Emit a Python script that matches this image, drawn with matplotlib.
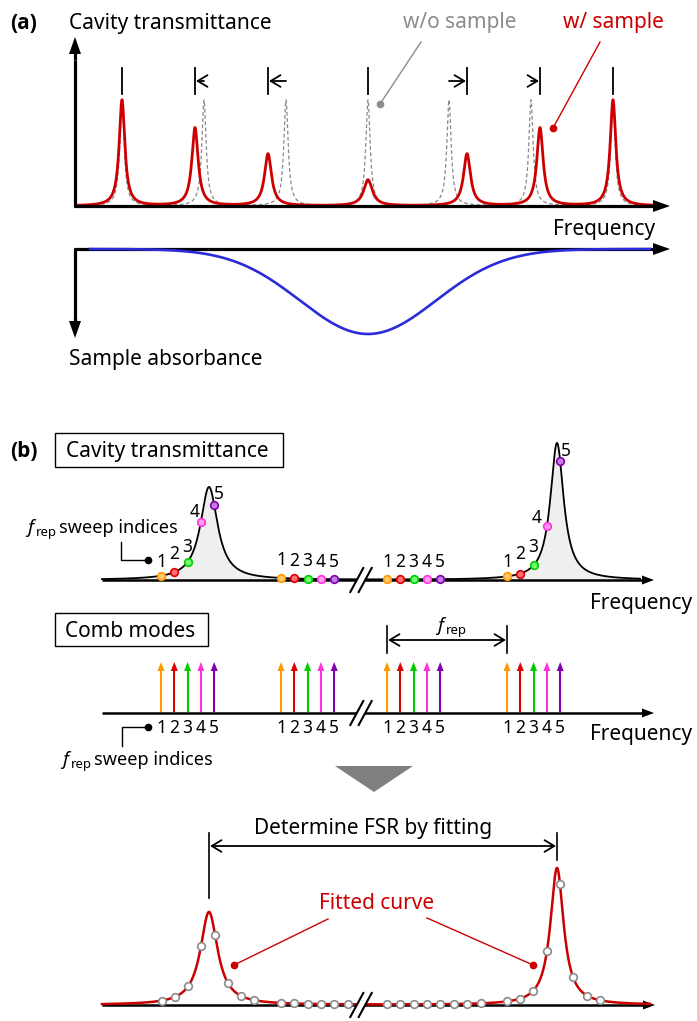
import numpy as np
import matplotlib
matplotlib.use("Agg")
import matplotlib.pyplot as plt
from matplotlib.patches import Polygon, Rectangle

plt.rcParams['font.family'] = ['Noto Sans', 'DejaVu Sans']
plt.rcParams['mathtext.fontset'] = 'custom'
plt.rcParams['mathtext.rm'] = 'Noto Sans'
plt.rcParams['mathtext.it'] = 'Noto Sans:italic'

# ---- panel (a) data (frequency in arbitrary units, heights in a.u.) ----
free_peaks = [122, 204, 286, 368, 449, 531, 613]      # w/o sample
sample_peaks = [122, 195, 268, 368, 467, 540, 613]    # w/ sample
sample_heights = [106, 78, 52, 26, 52, 78, 106]
sample_widths = [3.4, 3.8, 4.2, 5.2, 4.2, 3.8, 3.4]
free_height = 106
free_width = 2.6
absorb_center = 368
absorb_depth = 85
absorb_sigma = 68

# ---- panel (b) data ----
fsr_peaks = [209, 557]
fsr_heights = [93, 137]
fsr_widths = [10.5, 8.1]
comb_group_starts = [161, 281, 387, 507]
sweep_step = 13.3
sweep_labels = ['1', '2', '3', '4', '5']
sweep_edge = ['#ff9900', '#dd0000', '#00cc00', '#ff33dd', '#8000b0']
sweep_face = ['#ffc870', '#ff7070', '#70ff70', '#ff9cee', '#c080e0']
fit_points = [162, 175, 188, 201, 215, 228, 241, 254,
              281, 294, 308, 321, 334, 348,
              387, 400, 414, 427, 440, 454, 467, 481,
              507, 520, 533, 547, 560, 573, 587, 600]


def lorentz(x, centers, heights, widths):
    x = np.asarray(x, dtype=float)
    y = np.zeros_like(x)
    for c, h, g in zip(centers, heights, widths):
        y += h * g**2 / (g**2 + (x - c)**2)
    return y


fig = plt.figure(figsize=(6.97, 10.21), dpi=100)
ax = fig.add_axes([0, 0, 1, 1])
ax.set_xlim(0, 697)
ax.set_ylim(1021, 0)
ax.axis('off')


def solid_arrow(x0, y0, x1, y1, color='black', lw=2.0, hl=16, hw=12, z=3):
    dx, dy = x1 - x0, y1 - y0
    L = np.hypot(dx, dy)
    ux, uy = dx / L, dy / L
    bx, by = x1 - ux * hl, y1 - uy * hl
    ax.plot([x0, bx + ux * 2], [y0, by + uy * 2], color=color, lw=lw,
            solid_capstyle='butt', zorder=z)
    px, py = -uy, ux
    ax.add_patch(Polygon([(x1, y1), (bx + px * hw / 2, by + py * hw / 2),
                          (bx - px * hw / 2, by - py * hw / 2)],
                         closed=True, facecolor=color, edgecolor='none', zorder=z))


def open_arrow(x0, x1, y, style='->', lw=1.3):
    ax.annotate('', xy=(x1, y), xytext=(x0, y),
                arrowprops=dict(arrowstyle=style + ',head_length=0.5,head_width=0.3',
                                lw=lw, color='black', shrinkA=0, shrinkB=0,
                                mutation_scale=14))


def leader(x0, y0, x1, y1, color):
    ax.plot([x0, x1], [y0, y1], color=color, lw=1.0, zorder=4)
    ax.plot(x1, y1, 'o', color=color, ms=4.5, zorder=5)


def axis_break(xc, y):
    ax.add_patch(Rectangle((xc - 4, y - 3), 8, 6, facecolor='white',
                           edgecolor='none', zorder=6))
    for off in (-4.2, 4.2):
        ax.plot([xc + off - 6.5, xc + off + 6.5], [y + 12, y - 12],
                color='black', lw=1.5, zorder=7)


def frep_label(x, y, tail):
    ax.text(x, y, '$f$', fontsize=13.5, va='baseline')
    ax.text(x + 11, y + 3, 'rep', fontsize=9.5, va='baseline')
    if tail:
        ax.text(x + 34, y, tail, fontsize=13, va='baseline')


bold = dict(fontsize=15, fontweight='bold', family=['Open Sans', 'DejaVu Sans'],
            va='baseline')

# ================= panel (a) =================
base_a = 206
xa = np.linspace(76, 652, 3000)
ax.text(10, 29, '(a)', **bold)
ax.text(69, 29, 'Cavity transmittance', fontsize=15, va='baseline')

ax.plot(xa, base_a - lorentz(xa, free_peaks, [free_height] * 7, [free_width] * 7),
        color='#888888', lw=0.9, ls=(0, (3, 2)), zorder=2)
ax.plot(xa, base_a - lorentz(xa, sample_peaks, sample_heights, sample_widths),
        color='#cc0000', lw=2.0, zorder=3)

ax.plot([75, 75], [base_a + 1.5, 60], color='black', lw=2.3, solid_capstyle='butt', zorder=4)
solid_arrow(75, 60, 75, 37, hl=17, hw=12, lw=2.3)
solid_arrow(74, base_a, 670, base_a, hl=17, hw=12, lw=2.3)

for xf, xs in zip(free_peaks, sample_peaks):
    ax.plot([xs, xs], [68, 94], color='black', lw=1.3)
    if xf != xs:
        open_arrow(xf, xs + (1 if xs < xf else -1), 81)

ax.text(460, 28, 'w/o sample', fontsize=15, color='#8c8c8c', ha='center', va='baseline')
ax.text(613, 28, 'w/ sample', fontsize=15, color='#cc0000', ha='center', va='baseline')
leader(421, 42, 380, 104, '#8c8c8c')
leader(600, 42, 553, 128, '#cc0000')
ax.text(553, 235, 'Frequency', fontsize=15, va='baseline')

# absorbance
base_ab = 249
solid_arrow(74, base_ab, 670, base_ab, hl=17, hw=12, lw=2.3)
ax.plot([75, 75], [base_ab - 1, 320], color='black', lw=2.3, solid_capstyle='butt')
solid_arrow(75, 318, 75, 338, hl=17, hw=12, lw=2.3)
xb = np.linspace(90, 650, 800)
ax.plot(xb, base_ab + absorb_depth * np.exp(-(xb - absorb_center)**2 / (2 * absorb_sigma**2)),
        color='#2b2bd9', lw=1.9, zorder=5)
ax.text(69, 365, 'Sample absorbance', fontsize=15, va='baseline')

# ================= panel (b) top =================
base_b = 580
ax.text(10, 457, '(b)', **bold)
ax.add_patch(Rectangle((55, 433), 228, 34, facecolor='none', edgecolor='black', lw=1.0))
ax.text(66, 457, 'Cavity transmittance', fontsize=15, va='baseline')

xc = np.linspace(102, 640, 3000)
yc = base_b - lorentz(xc, fsr_peaks, fsr_heights, fsr_widths)
ax.fill_between(xc, yc, base_b, color='#efefef', lw=0, zorder=1)
ax.plot(xc, yc, color='black', lw=1.3, zorder=2)
solid_arrow(102, base_b, 654, base_b, hl=12, hw=9, lw=1.8)
axis_break(361, base_b)

label_shift = [(0, -14), (0, -19), (0, -15), (-6, -10), (5, -12)]
label_shift_r = [(0, -15), (0, -20), (0, -19), (-10, -9), (6, -11)]
for gi, g0 in enumerate(comb_group_starts):
    xs = [g0 + k * sweep_step for k in range(5)]
    ys = base_b - lorentz(xs, fsr_peaks, fsr_heights, fsr_widths)
    for k in range(5):
        ax.plot(xs[k], ys[k], 'o', ms=5.5, mfc=sweep_face[k], mec=sweep_edge[k],
                mew=1.2, zorder=8)
        if gi == 0:
            dx, dy = label_shift[k]
        elif gi == 3:
            dx, dy = label_shift_r[k]
        else:
            dx, dy = 0, -18
        ax.text(xs[k] + dx, ys[k] + dy + 5.5, sweep_labels[k], fontsize=12.5,
                ha='center', va='baseline')

frep_label(25, 533, 'sweep indices')
ax.plot([121, 121, 148], [542, 560, 560], color='black', lw=1.0)
ax.plot(148, 560, 'o', color='black', ms=4.5)
ax.text(590, 609, 'Frequency', fontsize=15, va='baseline')

# ================= comb modes =================
base_c = 713
ax.add_patch(Rectangle((55, 613), 153, 33, facecolor='none', edgecolor='black', lw=1.0))
ax.text(65, 637, 'Comb modes', fontsize=15, va='baseline')
solid_arrow(102, base_c, 654, base_c, hl=12, hw=9, lw=1.8)
axis_break(361, base_c)
for g0 in comb_group_starts:
    for k in range(5):
        x = g0 + k * sweep_step
        solid_arrow(x, base_c - 1, x, 662, color=sweep_edge[k], lw=1.5, hl=9, hw=7)
        ax.text(x, 733, sweep_labels[k], fontsize=12.5, ha='center', va='baseline')

f0, f1 = comb_group_starts[2], comb_group_starts[3]
ax.plot([f0, f0], [626, 653], color='black', lw=1.2)
ax.plot([f1, f1], [626, 653], color='black', lw=1.2)
open_arrow(f0 + 1, f1 - 1, 640, style='<->')
frep_label(435, 631, None)

frep_label(60, 765, 'sweep indices')
ax.plot([122, 122, 148], [746, 727, 727], color='black', lw=1.0)
ax.plot(148, 727, 'o', color='black', ms=4.5)
ax.text(590, 740, 'Frequency', fontsize=15, va='baseline')

ax.add_patch(Polygon([(335, 766), (413, 766), (374, 792)], closed=True,
                     facecolor='#808080', edgecolor='none'))

# ================= fitting =================
base_f = 1005
ax.text(373, 834, 'Determine FSR by fitting', fontsize=15, ha='center', va='baseline')
ax.plot([fsr_peaks[0]] * 2, [833, 898], color='black', lw=1.2)
ax.plot([fsr_peaks[1]] * 2, [833, 860], color='black', lw=1.2)
open_arrow(fsr_peaks[0] + 1, fsr_peaks[1] - 1, 846, style='<->')

xf = np.linspace(102, 650, 3000)
ax.plot(xf, base_f - lorentz(xf, fsr_peaks, fsr_heights, fsr_widths),
        color='#cc0000', lw=1.8, zorder=3)
solid_arrow(102, base_f, 655, base_f, hl=12, hw=9, lw=1.8, z=2)
axis_break(361, base_f)
yfit = base_f - lorentz(fit_points, fsr_peaks, fsr_heights, fsr_widths)
ax.plot(fit_points, yfit, 'o', ms=5.5, mfc='white', mec='#8a8a8a', mew=1.2,
        ls='none', zorder=8)

ax.text(377, 909, 'Fitted curve', fontsize=15, color='#cc0000', ha='center', va='baseline')
leader(328, 919, 234, 965, '#cc0000')
leader(427, 918, 533, 965, '#cc0000')

fig.savefig('out.png', dpi=100)
